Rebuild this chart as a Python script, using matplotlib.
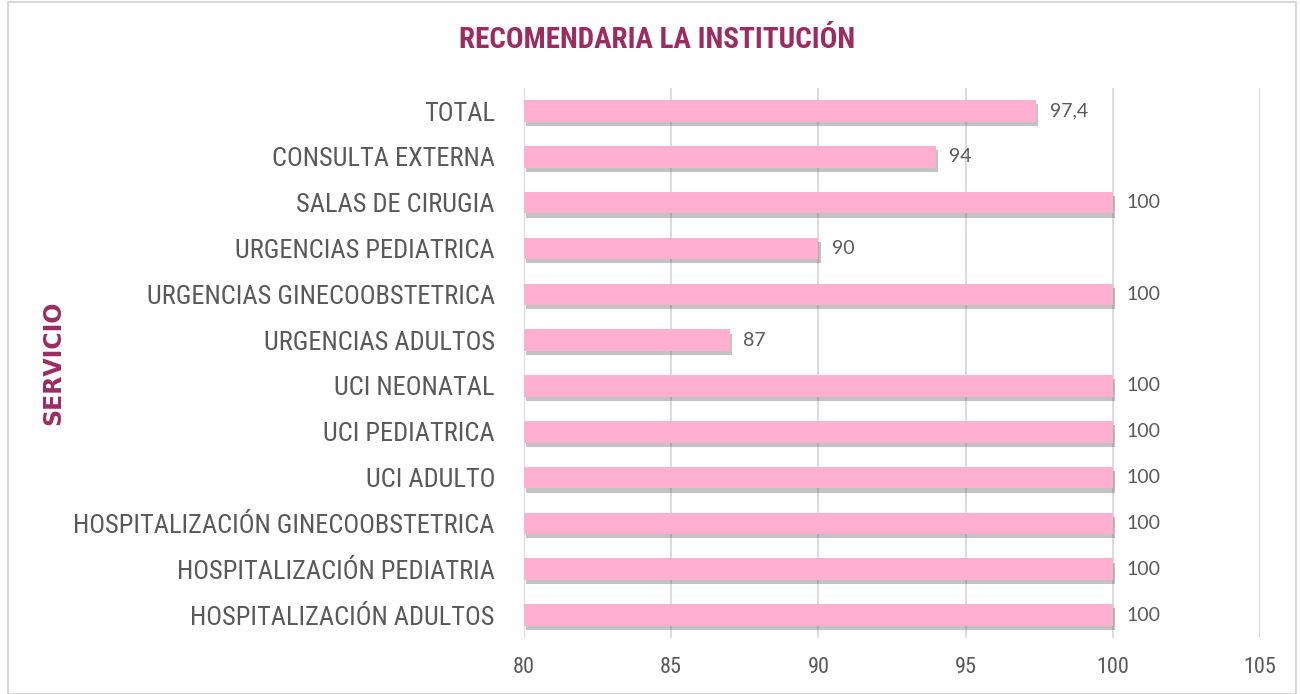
import matplotlib

matplotlib.use("Agg")

import matplotlib.pyplot as plt
import matplotlib.patheffects as pe
from matplotlib.patches import Rectangle


servicios = [
    "HOSPITALIZACIÓN ADULTOS",
    "HOSPITALIZACIÓN PEDIATRIA",
    "HOSPITALIZACIÓN GINECOOBSTETRICA",
    "UCI ADULTO",
    "UCI PEDIATRICA",
    "UCI NEONATAL",
    "URGENCIAS ADULTOS",
    "URGENCIAS GINECOOBSTETRICA",
    "URGENCIAS PEDIATRICA",
    "SALAS DE CIRUGIA",
    "CONSULTA EXTERNA",
    "TOTAL",
]
valores = [100, 100, 100, 100, 100, 100, 87, 100, 90, 100, 94, 97.4]
etiquetas = ["100", "100", "100", "100", "100", "100", "87", "100", "90", "100", "94", "97,4"]
xticks = [80, 85, 90, 95, 100, 105]

narrow = ["Roboto Condensed", "PT Sans Narrow", "DejaVu Sans"]
color_barra = "#FFB0D0"
color_titulo = "#9C2B62"
color_texto = "#595959"

fig = plt.figure(figsize=(13.01, 6.94), dpi=100)
ax = fig.add_axes([0.4028, 0.0807, 0.5657, 0.7923])

pos = list(range(len(servicios)))
barras = ax.barh(pos, [v - 80 for v in valores], left=80, height=0.47,
                 color=color_barra, zorder=3)
for b in barras:
    b.set_path_effects([
        pe.SimplePatchShadow(offset=(1.5, -3), shadow_rgbFace="#555555", alpha=0.35),
        pe.Normal(),
    ])

for p, v, t in zip(pos, valores, etiquetas):
    ax.text(v + 0.45, p, t, va="center", ha="left", fontsize=14,
            color=color_texto, family="Lato")

ax.set_xlim(80, 105)
ax.set_ylim(-0.5, len(servicios) - 0.5)
ax.set_xticks(xticks)
ax.set_xticklabels([str(x) for x in xticks], family=narrow, fontsize=16, color=color_texto)
ax.set_yticks(pos)
ax.set_yticklabels(servicios, family=narrow, fontsize=19, color=color_texto)
ax.tick_params(axis="both", length=0)
ax.tick_params(axis="y", pad=21)
ax.tick_params(axis="x", pad=14)
ax.grid(axis="x", color="#D9D9D9", linewidth=1.3, zorder=0)
for s in ax.spines.values():
    s.set_visible(False)

fig.text(0.505, 0.943, "RECOMENDARIA LA INSTITUCIÓN", ha="center", va="center",
         fontsize=21, fontweight="bold", color=color_titulo, family=narrow)
fig.text(0.041, 0.478, "SERVICIO", ha="center", va="center", rotation=90,
         fontsize=17, fontweight="bold", color=color_titulo, family="DejaVu Sans")

fig.patches.append(Rectangle((0.006, 0.0), 0.99, 0.997, transform=fig.transFigure,
                             fill=False, edgecolor="#D9D9D9", linewidth=1.5))

fig.savefig("out.png", dpi=100)
